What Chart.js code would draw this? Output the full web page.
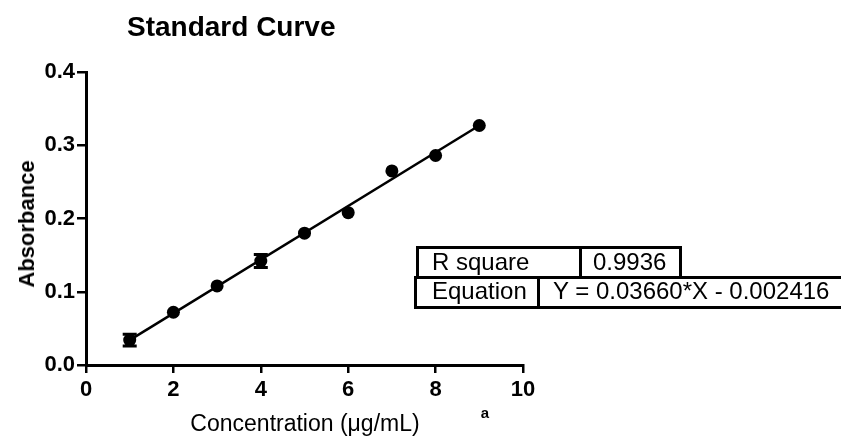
<!DOCTYPE html>
<html>
<head>
<meta charset="utf-8">
<script src="https://cdn.jsdelivr.net/npm/chart.js@4"></script>
<style>
  html, body { margin: 0; padding: 0; background: #fff; }
  #wrap { position: relative; width: 841px; height: 436px; overflow: hidden; font-family: "Liberation Sans", Arial, sans-serif; color: #000; }
  #wrap canvas { position: absolute; left: 0; top: 0; }
  .txt { position: absolute; line-height: 1; white-space: nowrap; }
  .box { position: absolute; border: 3px solid #000; box-sizing: border-box; }
  .vline { position: absolute; width: 3px; background: #000; }
</style>
</head>
<body>
<div id="wrap">
    <canvas id="curve" width="841" height="436"></canvas>

    <div class="txt" style="left:127px; top:13px; font-size:28px; font-weight:bold;">Standard Curve</div>
    <div class="txt" style="left:27px; top:224px; font-size:22px; font-weight:bold; transform:translate(-50%,-50%) rotate(-90deg);">Absorbance</div>
    <div class="txt" style="left:305px; top:412px; font-size:23px; transform:translateX(-50%);">Concentration (μg/mL)</div>
    <div class="txt" style="left:485px; top:405px; font-size:15px; font-weight:bold; transform:translateX(-50%);">a</div>

    <!-- fit results table -->
    <div class="box" style="left:416px; top:246px; width:266px; height:33px;"></div>
    <div class="vline" style="left:579px; top:246px; height:33px;"></div>
    <div class="box" style="left:414px; top:276px; width:440px; height:33px;"></div>
    <div class="vline" style="left:537px; top:276px; height:33px;"></div>
    <div class="txt" style="left:432px; top:250px; font-size:24px;">R square</div>
    <div class="txt" style="left:593px; top:250px; font-size:24px;">0.9936</div>
    <div class="txt" style="left:432px; top:279px; font-size:24px;">Equation</div>
    <div class="txt" style="left:553px; top:279px; font-size:24px;">Y = 0.03660*X - 0.002416</div>
</div>

<script>
const concentration = [1, 2, 3, 4, 5, 6, 7, 8, 9];
const absorbance = [0.034, 0.072, 0.108, 0.142, 0.180, 0.208, 0.265, 0.286, 0.327];
const absorbanceErr = [0.008, 0, 0, 0.009, 0, 0, 0, 0, 0];
const fitX = [1, 9];
const fitY = [0.034, 0.327];
const xTicks = [0, 2, 4, 6, 8, 10];
const yTicks = [0.0, 0.1, 0.2, 0.3, 0.4];

const FONT = '"Liberation Sans", Arial, sans-serif';

// vertical error bars with caps, drawn from the scales
const errorBars = {
    id: 'errorBars',
    afterDatasetsDraw(chart) {
        const ctx = chart.ctx;
        const xs = chart.scales.x;
        const ys = chart.scales.y;
        ctx.save();
        ctx.strokeStyle = '#000';
        ctx.lineWidth = 3;
        concentration.forEach((c, i) => {
            const e = absorbanceErr[i];
            if (!e) return;
            const px = xs.getPixelForValue(c);
            const top = ys.getPixelForValue(absorbance[i] + e);
            const bot = ys.getPixelForValue(absorbance[i] - e);
            ctx.beginPath();
            ctx.moveTo(px, top); ctx.lineTo(px, bot);
            ctx.moveTo(px - 7, top); ctx.lineTo(px + 7, top);
            ctx.moveTo(px - 7, bot); ctx.lineTo(px + 7, bot);
            ctx.stroke();
        });
        ctx.restore();
    }
};

new Chart(document.getElementById('curve'), {
    type: 'scatter',
    data: {
        datasets: [{
            data: concentration.map((c, i) => ({ x: c, y: absorbance[i] })),
            pointRadius: 6.5,
            backgroundColor: '#000',
            borderWidth: 0,
            showLine: false
        }, {
            data: fitX.map((c, i) => ({ x: c, y: fitY[i] })),
            showLine: true,
            pointRadius: 0,
            borderColor: '#000',
            borderWidth: 2.5
        }]
    },
    options: {
        responsive: false,
        devicePixelRatio: 1,
        animation: false,
        layout: { padding: { top: 72, right: 318, bottom: 0, left: 0 } },
        plugins: { legend: { display: false }, tooltip: { enabled: false } },
        scales: {
            x: {
                type: 'linear',
                min: 0, max: 10,
                afterFit: s => { s.height = 71; },
                afterBuildTicks: s => { s.ticks = xTicks.map(v => ({ value: v })); },
                grid: { drawOnChartArea: false, drawTicks: true, tickLength: 8, color: '#000', lineWidth: 2.5 },
                border: { color: '#000', width: 3 },
                ticks: { color: '#000', padding: 4, font: { family: FONT, size: 22, weight: 'bold' } }
            },
            y: {
                min: 0, max: 0.4,
                afterFit: s => { s.width = 86; },
                afterBuildTicks: s => { s.ticks = yTicks.map(v => ({ value: v })); },
                grid: { drawOnChartArea: false, drawTicks: true, tickLength: 9, color: '#000', lineWidth: 2.5 },
                border: { color: '#000', width: 3 },
                ticks: {
                    color: '#000', padding: 2,
                    font: { family: FONT, size: 22, weight: 'bold' },
                    callback: v => v.toFixed(1)
                }
            }
        }
    },
    plugins: [errorBars]
});
</script>
</body>
</html>
